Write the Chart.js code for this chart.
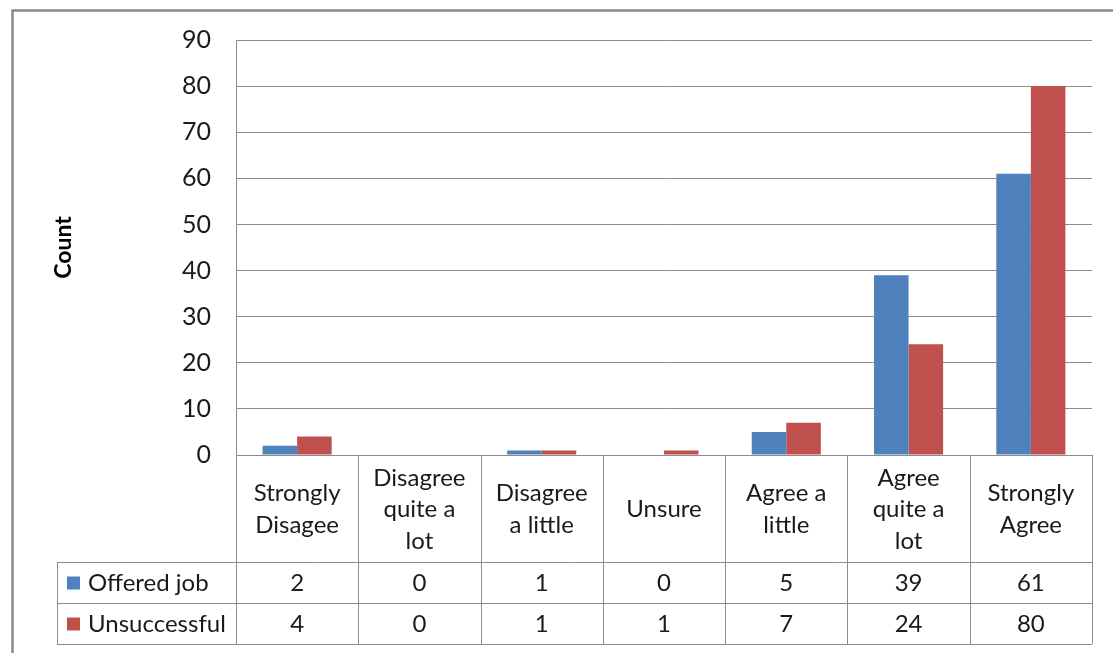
<!DOCTYPE html>
<html>
<head>
<meta charset="utf-8">
<script src="https://cdn.jsdelivr.net/npm/chart.js@4"></script>
<style>
  html, body { margin: 0; padding: 0; background: #fff; }
  canvas { display: block; }
</style>
</head>
<body>
<canvas id="countChart" width="1113" height="653"></canvas>
<script>
// answer categories, each split into the lines shown in the table header
const categories = [
  ['Strongly', 'Disagee'],
  ['Disagree', 'quite a', 'lot'],
  ['Disagree', 'a little'],
  ['Unsure'],
  ['Agree a', 'little'],
  ['Agree', 'quite a', 'lot'],
  ['Strongly', 'Agree']
];
const seriesNames = ['Offered job', 'Unsuccessful'];
const offeredJob = [2, 0, 1, 0, 5, 39, 61];
const unsuccessful = [4, 0, 1, 1, 7, 24, 80];
const yTicks = [0, 10, 20, 30, 40, 50, 60, 70, 80, 90];

const FONT = 'Lato, "Open Sans", sans-serif';
const BLUE = '#4f81bd';
const RED = '#c0504d';
const LINE = '#8c8c8c';

// outer grey frame of the chart object
const framePlugin = {
  id: 'frame',
  afterDraw(chart) {
    const ctx = chart.ctx;
    ctx.save();
    ctx.strokeStyle = '#8a8a8a';
    ctx.lineWidth = 2.5;
    ctx.strokeRect(12.5, 10.5, chart.width + 20, chart.height + 20);
    ctx.restore();
  }
};

// data table under the plot: category header row plus one row per series
const dataTablePlugin = {
  id: 'dataTable',
  afterDraw(chart) {
    const ctx = chart.ctx;
    const x = chart.scales.x;
    const area = chart.chartArea;
    const cw = (area.right - area.left) / categories.length;
    const headTop = area.bottom;
    const headBottom = headTop + 107;
    const rowH = 41;
    const tableBottom = headBottom + rowH * seriesNames.length;
    const legendLeft = 57;

    ctx.save();
    ctx.strokeStyle = LINE;
    ctx.lineWidth = 1;
    ctx.beginPath();
    for (let i = 0; i <= categories.length; i++) {
      const px = Math.round(area.left + i * cw) + 0.5;
      ctx.moveTo(px, headTop);
      ctx.lineTo(px, tableBottom);
    }
    ctx.moveTo(legendLeft + 0.5, headBottom);
    ctx.lineTo(legendLeft + 0.5, tableBottom);
    for (let r = 0; r <= seriesNames.length; r++) {
      const py = Math.round(headBottom + r * rowH) + 0.5;
      ctx.moveTo(legendLeft, py);
      ctx.lineTo(area.right, py);
    }
    ctx.stroke();

    ctx.fillStyle = '#1a1a1a';
    ctx.font = '24px ' + FONT;
    ctx.textAlign = 'center';
    ctx.textBaseline = 'middle';
    const lh = 31.5;
    const headMid = (headTop + headBottom) / 2 + 1;
    categories.forEach((lines, i) => {
      const cx = x.getPixelForValue(i);
      const y0 = headMid - (lines.length - 1) * lh / 2;
      lines.forEach((t, k) => ctx.fillText(t, cx, y0 + k * lh));
    });

    chart.data.datasets.forEach((ds, r) => {
      const cy = headBottom + r * rowH + rowH / 2 + 1;
      ctx.fillStyle = ds.backgroundColor;
      ctx.fillRect(legendLeft + 10, cy - 7, 13, 13);
      ctx.fillStyle = '#1a1a1a';
      ctx.textAlign = 'left';
      ctx.fillText(ds.label, legendLeft + 31, cy);
      ctx.textAlign = 'center';
      ds.data.forEach((v, i) => ctx.fillText(String(v), x.getPixelForValue(i), cy));
    });
    ctx.restore();
  }
};

new Chart(document.getElementById('countChart'), {
  type: 'bar',
  data: {
    labels: categories.map(l => l.join(' ')),
    datasets: [
      { label: seriesNames[0], data: offeredJob, backgroundColor: BLUE },
      { label: seriesNames[1], data: unsuccessful, backgroundColor: RED }
    ]
  },
  options: {
    responsive: false,
    animation: false,
    layout: { padding: { top: 40, right: 21, bottom: 198, left: 0 } },
    datasets: {
      bar: { categoryPercentage: 0.565, barPercentage: 1.0 }
    },
    plugins: {
      legend: { display: false },
      tooltip: { enabled: false }
    },
    scales: {
      x: { display: false },
      y: {
        min: yTicks[0],
        max: yTicks[yTicks.length - 1],
        afterBuildTicks(scale) {
          scale.ticks = yTicks.map(v => ({ value: v }));
        },
        afterFit(scale) { scale.width = 236; },
        ticks: {
          padding: 25,
          color: '#1a1a1a',
          font: { family: FONT, size: 25 }
        },
        grid: { color: LINE, drawTicks: false },
        border: { color: LINE },
        title: {
          display: true,
          text: 'Count',
          color: '#000',
          padding: { top: 50, bottom: 0 },
          font: { family: FONT, size: 23, weight: 'bold' }
        }
      }
    }
  },
  plugins: [framePlugin, dataTablePlugin]
});
</script>
</body>
</html>
